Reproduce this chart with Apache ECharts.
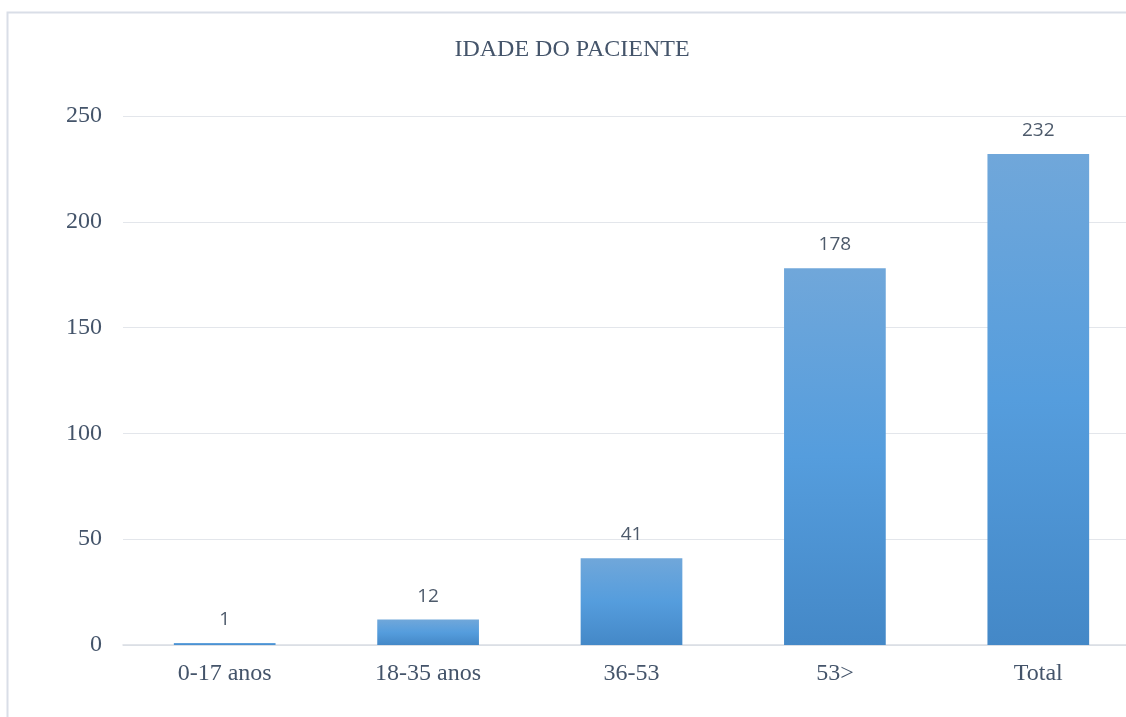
<!DOCTYPE html>
<html>
<head>
<meta charset="utf-8">
<script src="https://cdn.jsdelivr.net/npm/echarts@6/dist/echarts.min.js"></script>
<style>
  html, body { margin: 0; padding: 0; background: #ffffff; }
  #chart { width: 1126px; height: 717px; }
</style>
</head>
<body>
<div id="chart"></div>
<script>
// Patient age groups and counts
const categories = ['0-17 anos', '18-35 anos', '36-53', '53>', 'Total'];
const counts = [1, 12, 41, 178, 232];
const yTicks = { min: 0, max: 250, interval: 50 };

const textColor = '#44546a';
const serif = '"Liberation Serif", "Times New Roman", serif';

const chart = echarts.init(document.getElementById('chart'), null, { renderer: 'canvas' });

chart.setOption({
  backgroundColor: '#ffffff',
  animation: false,
  graphic: [{
    type: 'rect',
    shape: { x: 7.5, y: 12.5, width: 1200, height: 800 },
    style: { fill: 'none', stroke: '#d9dee7', lineWidth: 2 },
    silent: true,
    z: -10
  }],
  title: {
    text: 'IDADE DO PACIENTE',
    left: 567,
    top: 33,
    textAlign: 'center',
    textStyle: { fontFamily: serif, fontSize: 24, fontWeight: 'normal', color: textColor }
  },
  // plot area runs slightly past the right edge of the canvas
  grid: {
    left: 123, top: 116, right: -14, height: 529,
    containLabel: false,
    outerBoundsMode: 'none'
  },
  xAxis: {
    type: 'category',
    data: categories,
    axisLine: { lineStyle: { color: '#d9dde3', width: 1.5 } },
    axisTick: { show: false },
    axisLabel: { fontFamily: serif, fontSize: 24, color: textColor, margin: 17 }
  },
  yAxis: {
    type: 'value',
    min: yTicks.min,
    max: yTicks.max,
    interval: yTicks.interval,
    axisLine: { show: false },
    axisTick: { show: false },
    splitLine: { lineStyle: { color: '#e3e6eb', width: 1 } },
    axisLabel: { fontFamily: serif, fontSize: 24, color: textColor, margin: 21 }
  },
  series: [{
    type: 'bar',
    data: counts,
    barWidth: '50%',
    itemStyle: {
      color: new echarts.graphic.LinearGradient(0, 0, 0, 1, [
        { offset: 0, color: '#70a7da' },
        { offset: 0.5, color: '#559ddd' },
        { offset: 1, color: '#4488c7' }
      ])
    },
    label: {
      show: true,
      position: 'top',
      distance: 14,
      fontFamily: '"Open Sans", "Liberation Sans", sans-serif',
      fontSize: 19,
      color: '#4d5a6b'
    }
  }]
});
</script>
</body>
</html>
